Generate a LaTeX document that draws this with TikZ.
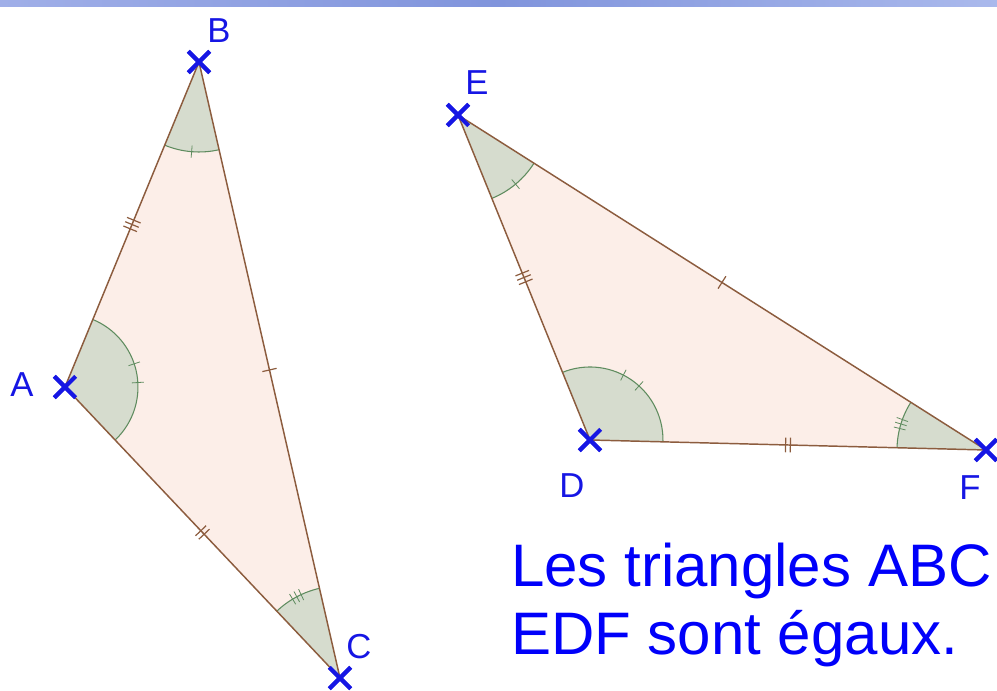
\documentclass[tikz,border=0pt]{standalone}
\usepackage{fontspec}
\newfontfamily\arial{Liberation Sans}
\usetikzlibrary{shapes.misc,angles,decorations.markings}
\definecolor{trifill}{RGB}{252,238,232}
\definecolor{angfill}{RGB}{214,220,206}
\definecolor{arccol}{RGB}{95,140,95}
\definecolor{edgecol}{RGB}{140,92,62}
\definecolor{ptblue}{RGB}{22,22,228}
\definecolor{txtblue}{RGB}{0,0,250}
\definecolor{barA}{RGB}{160,175,232}
\definecolor{barB}{RGB}{128,148,220}
\definecolor{barC}{RGB}{170,185,236}
\tikzset{
  x=0.75pt, y=0.75pt,
  pt/.style={cross out, draw=ptblue, line width=3pt, minimum size=13pt, inner sep=0pt},
  lbl/.style={text=ptblue, font=\arial\fontsize{26}{30}\selectfont, inner sep=0pt},
  edge/.style={draw=edgecol, line width=1.1pt},
  ang/.style={draw=arccol, fill=angfill, line width=0.8pt},
  atick/.style={draw=arccol, line width=0.6pt},
  tickone/.style={postaction={decorate, decoration={markings, mark=at position 0.5 with {\draw[edgecol, line width=0.9pt] (0,-5.5pt) -- (0,5.5pt);}}}},
  ticktwo/.style={postaction={decorate, decoration={markings, mark=at position 0.5 with {\draw[edgecol, line width=0.9pt] (-1.8pt,-5.5pt) -- (-1.8pt,5.5pt) (1.8pt,-5.5pt) -- (1.8pt,5.5pt);}}}},
  tickthree/.style={postaction={decorate, decoration={markings, mark=at position 0.5 with {\draw[edgecol, line width=0.9pt] (-3.5pt,-5.5pt) -- (-3.5pt,5.5pt) (0pt,-5.5pt) -- (0pt,5.5pt) (3.5pt,-5.5pt) -- (3.5pt,5.5pt);}}}},
}
\newcommand{\arctick}[3]{\draw[atick] ([shift={(#2:#3-6)}]#1.center) -- ([shift={(#2:#3+6)}]#1.center);}
\begin{document}
\begin{tikzpicture}
\useasboundingbox (0,0) rectangle (997,691);
% top bar
\shade[left color=barA, right color=barC, middle color=barB] (0,684) rectangle (997,691);
% vertices
\node[pt] (A) at (65,304) {};
\node[pt] (B) at (199,629) {};
\node[pt] (C) at (340,13) {};
\node[pt] (E) at (458,576) {};
\node[pt] (D) at (590,251) {};
\node[pt] (F) at (986,241) {};
% triangle fills
\fill[trifill] (A.center) -- (B.center) -- (C.center) -- cycle;
\fill[trifill] (E.center) -- (D.center) -- (F.center) -- cycle;
% angles
\pic[ang, angle radius=67.5pt] {angle = A--B--C};
\pic[ang, angle radius=54.75pt] {angle = C--A--B};
\pic[ang, angle radius=69pt] {angle = B--C--A};
\pic[ang, angle radius=67.5pt] {angle = D--E--F};
\pic[ang, angle radius=54.75pt] {angle = F--D--E};
\pic[ang, angle radius=66.75pt] {angle = E--F--D};
% angle ticks
\arctick{B}{265.3}{90}
\arctick{A}{18.5}{73}
\arctick{A}{3.5}{73}
\arctick{C}{115}{92}
\arctick{C}{118}{92}
\arctick{C}{121}{92}
\arctick{E}{-50.2}{90}
\arctick{D}{62.8}{73}
\arctick{D}{47.8}{73}
\arctick{F}{160}{89}
\arctick{F}{163}{89}
\arctick{F}{166}{89}
% edges
\draw[edge, tickthree] (A.center) -- (B.center);
\draw[edge, tickone] (B.center) -- (C.center);
\draw[edge, ticktwo] (A.center) -- (C.center);
\draw[edge, tickthree] (E.center) -- (D.center);
\draw[edge, tickone] (E.center) -- (F.center);
\draw[edge, ticktwo] (D.center) -- (F.center);
% crosses on top
\foreach \p in {A,B,C,D,E,F} \node[pt] at (\p.center) {};
% labels
\node[lbl] (lA) at (22,306) {A};
\node[lbl] (lB) at (219,660) {B};
\node[lbl] (lC) at (359,44) {C};
\node[lbl] (lE) at (477,608) {E};
\node[lbl] (lD) at (572,205) {D};
\node[lbl] (lF) at (970,203) {F};
% statement
\node[anchor=base west, inner sep=0pt, text=txtblue, font=\arial\fontsize{45}{52}\selectfont] (t1) at (511,104) {Les triangles ABC};
\node[anchor=base west, inner sep=0pt, text=txtblue, font=\arial\fontsize{45}{52}\selectfont] (t2) at (511,36) {EDF sont égaux.};
\end{tikzpicture}
\end{document}
